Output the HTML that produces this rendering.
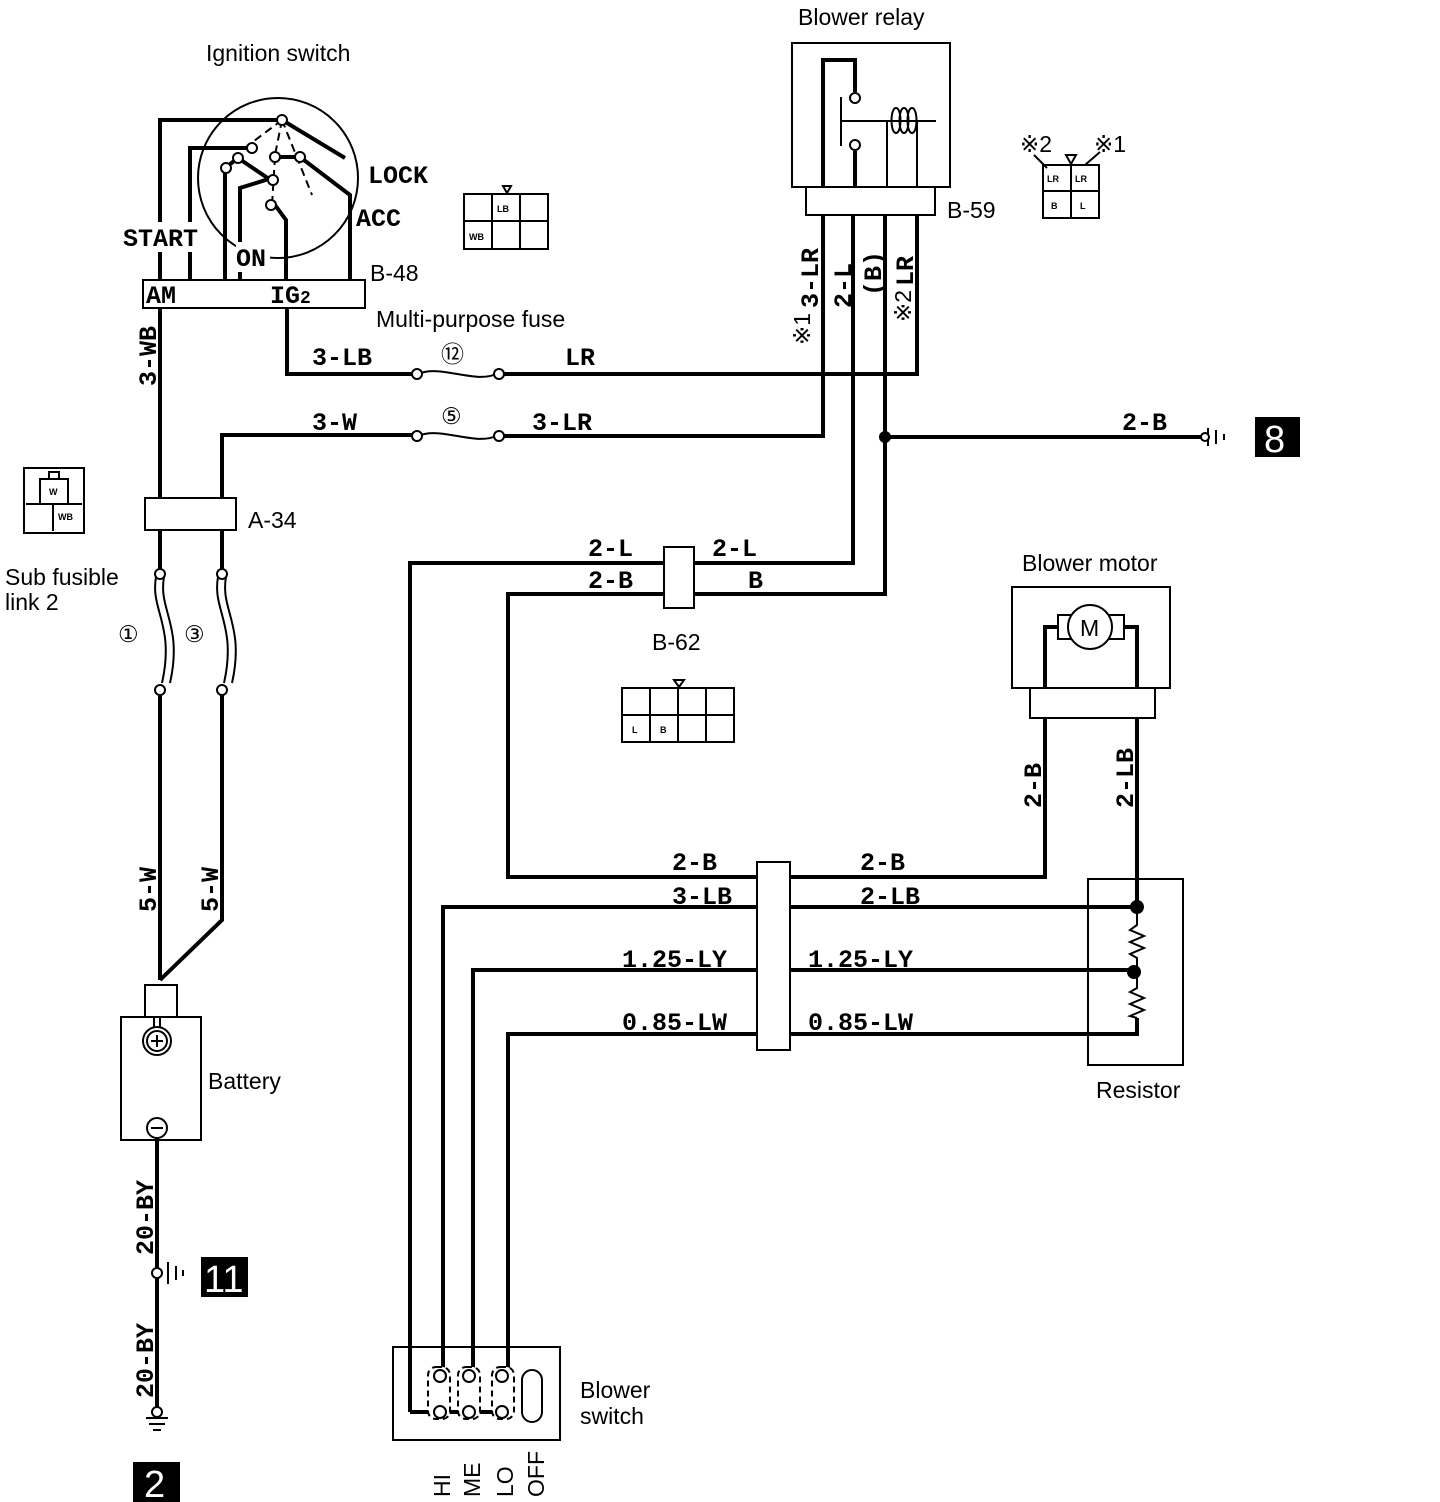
<!DOCTYPE html>
<html><head><meta charset="utf-8"><style>
html,body{margin:0;padding:0;background:#fff}
svg{display:block}
.w{fill:none;stroke:#000;stroke-width:4}
.t{fill:none;stroke:#000;stroke-width:2}
.l{font-family:"Liberation Mono",monospace;font-size:25px;font-weight:bold;fill:#000}
.s{font-family:"Liberation Sans",sans-serif;font-size:23px;fill:#000}
.c{font-family:"Liberation Sans",sans-serif;font-size:9px;font-weight:bold;fill:#000}
</style></head><body>
<svg width="1440" height="1502" viewBox="0 0 1440 1502" xmlns="http://www.w3.org/2000/svg">
<!-- Ignition switch -->
<text class="s" x="206" y="61">Ignition switch</text>
<circle cx="278" cy="178" r="80" class="t"/>
<path class="w" d="M160 280 V120 H282 M282 120 L345 158 M190 280 V148 H252 M225 280 V168 L238 158 L275 183 M240 280 V188 L272 178 M286 280 V220 L275 205 M350 280 V195 L300 157 H275"/>
<path class="t" stroke-dasharray="8 5" d="M282 120 L242 150 M282 120 L275 155 M282 120 L312 195 M275 157 L272 205"/>
<g fill="#fff" stroke="#000" stroke-width="2"><circle cx="282" cy="120" r="5"/><circle cx="252" cy="148" r="5"/><circle cx="238" cy="158" r="5"/><circle cx="226" cy="168" r="5"/><circle cx="275" cy="157" r="5"/><circle cx="300" cy="157" r="5"/><circle cx="273" cy="180" r="5"/><circle cx="271" cy="205" r="5"/></g>
<rect x="122" y="222" width="84" height="30" fill="#fff"/>
<rect x="236" y="242" width="34" height="30" fill="#fff"/>
<text class="l" x="368" y="183" font-size="28">LOCK</text>
<text class="l" x="356" y="226" font-size="28">ACC</text>
<text class="l" x="123" y="246" font-size="28">START</text>
<text class="l" x="236" y="266" font-size="28">ON</text>
<rect x="143" y="280" width="222" height="28" class="t"/>
<text class="l" x="146" y="303" font-size="26">AM</text>
<text class="l" x="270" y="303" font-size="26">IG<tspan font-size="18">2</tspan></text>
<text class="s" x="370" y="281">B-48</text>
<text class="s" x="376" y="327">Multi-purpose fuse</text>
<g class="t"><rect x="464" y="194" width="84" height="55"/><path d="M464 221 H548 M492 194 V249 M520 194 V249"/><path d="M503 186 L511 186 L507 193 Z"/></g>
<text class="c" x="497" y="212">LB</text><text class="c" x="469" y="240">WB</text>
<!-- left wires -->
<path class="w" d="M160 308 V498 M160 530 V570 M160 690 V980 M222 498 V435 H414 M222 530 V570 M222 690 V920 L160 980"/>
<rect x="145" y="498" width="91" height="32" class="t"/>
<text class="s" x="248" y="528">A-34</text>
<text class="l" transform="translate(156,386) rotate(-90)">3-WB</text>
<g class="t"><path d="M156 577 C150 610 175 625 162 683 M164 577 C158 610 183 625 170 683"/><path d="M218 577 C212 610 237 625 224 683 M226 577 C220 610 245 625 232 683"/></g>
<g fill="#fff" stroke="#000" stroke-width="2"><circle cx="160" cy="574" r="5"/><circle cx="160" cy="690" r="5"/><circle cx="222" cy="574" r="5"/><circle cx="222" cy="690" r="5"/></g>
<text class="s" x="118" y="642" font-size="28">①</text><text class="s" x="184" y="642" font-size="28">③</text>
<text class="s" x="5" y="585">Sub fusible</text><text class="s" x="5" y="610">link 2</text>
<g class="t"><rect x="24" y="468" width="60" height="65"/><rect x="40" y="479" width="28" height="25"/><rect x="49" y="472" width="10" height="7"/><path d="M26 504 H82 M53 504 V531"/></g>
<text class="c" x="49" y="495">W</text><text class="c" x="58" y="520">WB</text>
<text class="l" transform="translate(156,912) rotate(-90)">5-W</text>
<text class="l" transform="translate(218,912) rotate(-90)">5-W</text>
<!-- battery -->
<rect x="145" y="985" width="32" height="32" class="t"/>
<rect x="121" y="1017" width="80" height="123" class="t"/>
<circle cx="157" cy="1041" r="14" class="t"/><circle cx="157" cy="1041" r="10" class="t"/><path class="t" d="M151 1041 H163 M157 1035 V1047 M154 1027 V1017 M160 1027 V1017"/>
<circle cx="157" cy="1128" r="10" class="t"/><path class="t" d="M151 1128 H163"/>
<text class="s" x="208" y="1089">Battery</text>
<path class="w" d="M157 1138 V1412"/>
<circle cx="157" cy="1273" r="5" fill="#fff" stroke="#000" stroke-width="2"/>
<path class="t" d="M168 1262 V1284 M176 1266 V1280 M183 1270 V1276"/>
<rect x="201" y="1257" width="47" height="40" fill="#000"/><text x="204" y="1292" font-family="Liberation Sans,sans-serif" font-size="38" fill="#fff">11</text>
<text class="l" transform="translate(153,1255) rotate(-90)">20-BY</text>
<text class="l" transform="translate(153,1398) rotate(-90)">20-BY</text>
<circle cx="157" cy="1412" r="5" fill="#fff" stroke="#000" stroke-width="2"/>
<path class="t" d="M146 1418 H168 M149 1424 H165 M153 1430 H161"/>
<rect x="133" y="1462" width="47" height="40" fill="#000"/><text x="144" y="1497" font-family="Liberation Sans,sans-serif" font-size="38" fill="#fff">2</text>
<!-- fuses -->
<path class="w" d="M287 308 V374 H414 M500 374 H917 V215 M500 436 H823 V215"/>
<path class="t" d="M418 374 C440 364 475 384 496 374 M418 436 C440 426 475 446 496 436"/>
<g fill="#fff" stroke="#000" stroke-width="2"><circle cx="417" cy="374" r="5"/><circle cx="499" cy="374" r="5"/><circle cx="417" cy="436" r="5"/><circle cx="499" cy="436" r="5"/></g>
<text class="l" x="312" y="365">3-LB</text><text class="s" x="441" y="362" font-size="28">⑫</text><text class="l" x="565" y="365">LR</text>
<text class="l" x="312" y="430">3-W</text><text class="s" x="441" y="424" font-size="28">⑤</text><text class="l" x="532" y="430">3-LR</text>
<!-- blower relay -->
<text class="s" x="798" y="25">Blower relay</text>
<rect x="792" y="43" width="158" height="144" class="t"/>
<rect x="806" y="187" width="129" height="28" class="t"/>
<path class="w" d="M823 187 V60 H855 V92 M855 151 V187"/>
<path class="t" d="M841 97 V146 M841 121 H936 M887 121 V187 M917 121 V187"/>
<circle cx="855" cy="98" r="5" class="t"/><circle cx="855" cy="145" r="5" class="t"/>
<path class="t" d="M896 108 C890 108 890 133 896 133 C902 133 902 108 896 108 M904 108 C898 108 898 133 904 133 C910 133 910 108 904 108 M912 108 C906 108 906 133 912 133 C918 133 918 108 912 108"/>
<text class="s" x="947" y="218">B-59</text>
<path class="w" d="M853 215 V563 H694 M664 563 H410 V1412 M885 215 V594 H694 M664 594 H508 V877 H757 M790 877 H1045 V718 M885 437 H1205"/>
<circle cx="885" cy="437" r="6" fill="#000"/>
<text class="l" transform="translate(818,308) rotate(-90)">3-LR</text>
<text class="s" transform="translate(810,345) rotate(-90)" font-size="14">※1</text>
<text class="l" transform="translate(851,308) rotate(-90)">2-L</text>
<text class="l" transform="translate(881,296) rotate(-90)">(B)</text>
<text class="l" transform="translate(913,286) rotate(-90)">LR</text>
<text class="s" transform="translate(911,322) rotate(-90)" font-size="14">※2</text>
<g class="t"><rect x="1043" y="165" width="56" height="53"/><path d="M1043 191 H1099 M1071 165 V218"/><path d="M1066 155 L1076 155 L1071 164 Z M1034 155 L1047 168 M1100 152 L1085 165"/></g>
<text class="s" x="1020" y="152" font-size="14">※2</text><text class="s" x="1094" y="152" font-size="14">※1</text>
<text class="c" x="1047" y="182">LR</text><text class="c" x="1075" y="182">LR</text><text class="c" x="1051" y="209">B</text><text class="c" x="1080" y="209">L</text>
<path class="t" d="M1208 428 V446 M1216 430 V444 M1224 434 V440"/>
<circle cx="1205" cy="437" r="4" fill="#fff" stroke="#000" stroke-width="2"/>
<rect x="1255" y="417" width="45" height="40" fill="#000"/><text x="1264" y="452" font-family="Liberation Sans,sans-serif" font-size="38" fill="#fff">8</text>
<text class="l" x="1122" y="430">2-B</text>
<!-- B-62 -->
<rect x="664" y="547" width="30" height="61" class="t"/>
<text class="l" x="588" y="556">2-L</text><text class="l" x="712" y="556">2-L</text>
<text class="l" x="588" y="588">2-B</text><text class="l" x="748" y="588">B</text>
<text class="s" x="652" y="650">B-62</text>
<g class="t"><rect x="622" y="688" width="112" height="54"/><path d="M622 715 H734 M650 688 V742 M678 688 V742 M706 688 V742 M674 680 L684 680 L679 687 Z"/></g>
<text class="c" x="632" y="733">L</text><text class="c" x="660" y="733">B</text>
<!-- Blower motor -->
<text class="s" x="1022" y="571">Blower motor</text>
<rect x="1012" y="587" width="158" height="101" class="t"/>
<rect x="1030" y="688" width="125" height="30" class="t"/>
<path class="w" d="M1045 688 V627 H1058 M1124 627 H1137 V688"/>
<rect x="1058" y="615" width="66" height="24" class="t"/>
<circle cx="1090" cy="627" r="22" fill="#fff" stroke="#000" stroke-width="2"/>
<text class="s" x="1080" y="636">M</text>
<text class="l" transform="translate(1041,808) rotate(-90)">2-B</text>
<text class="l" transform="translate(1133,808) rotate(-90)">2-LB</text>
<!-- harness to resistor -->
<path class="w" d="M1137 718 V907 M443 1412 V907 H757 M790 907 H1137 M473 1412 V970 H757 M790 970 H1134 M508 1377 V1034 H757 M790 1034 H1137 V1018"/>
<path class="t" stroke-width="3" d="M1137 907 V925 L1130 930 L1144 936 L1130 942 L1144 948 L1130 954 L1137 958 V972 V988 L1130 992 L1144 998 L1130 1004 L1144 1010 L1130 1016 L1137 1018"/>
<circle cx="1137" cy="907" r="7" fill="#000"/><circle cx="1134" cy="972" r="7" fill="#000"/>
<rect x="1088" y="879" width="95" height="186" class="t"/>
<text class="s" x="1096" y="1098">Resistor</text>
<rect x="757" y="862" width="33" height="188" fill="#fff" stroke="#000" stroke-width="2"/>
<text class="l" x="672" y="870">2-B</text><text class="l" x="860" y="870">2-B</text>
<text class="l" x="672" y="904">3-LB</text><text class="l" x="860" y="904">2-LB</text>
<text class="l" x="622" y="967">1.25-LY</text><text class="l" x="808" y="967">1.25-LY</text>
<text class="l" x="622" y="1030">0.85-LW</text><text class="l" x="808" y="1030">0.85-LW</text>
<!-- Blower switch -->
<rect x="393" y="1347" width="167" height="93" class="t"/>
<path class="w" d="M410 1412 H502"/>
<g fill="#fff" stroke="#000" stroke-width="2">
<rect x="428" y="1367" width="22" height="52" rx="8" stroke-dasharray="6 4"/><rect x="458" y="1367" width="22" height="52" rx="8" stroke-dasharray="6 4"/><rect x="492" y="1367" width="22" height="52" rx="8" stroke-dasharray="6 4"/>
<circle cx="440" cy="1376" r="6"/><circle cx="469" cy="1376" r="6"/><circle cx="502" cy="1376" r="6"/>
<circle cx="440" cy="1412" r="6"/><circle cx="469" cy="1412" r="6"/><circle cx="502" cy="1412" r="6"/>
<rect x="522" y="1370" width="20" height="52" rx="10"/></g>
<text class="s" x="580" y="1398">Blower</text><text class="s" x="580" y="1424">switch</text>
<text class="s" transform="translate(450,1497) rotate(-90)" font-size="24">HI</text>
<text class="s" transform="translate(480,1497) rotate(-90)" font-size="24">ME</text>
<text class="s" transform="translate(513,1497) rotate(-90)" font-size="24">LO</text>
<text class="s" transform="translate(544,1497) rotate(-90)" font-size="24">OFF</text>
</svg>
</body></html>
